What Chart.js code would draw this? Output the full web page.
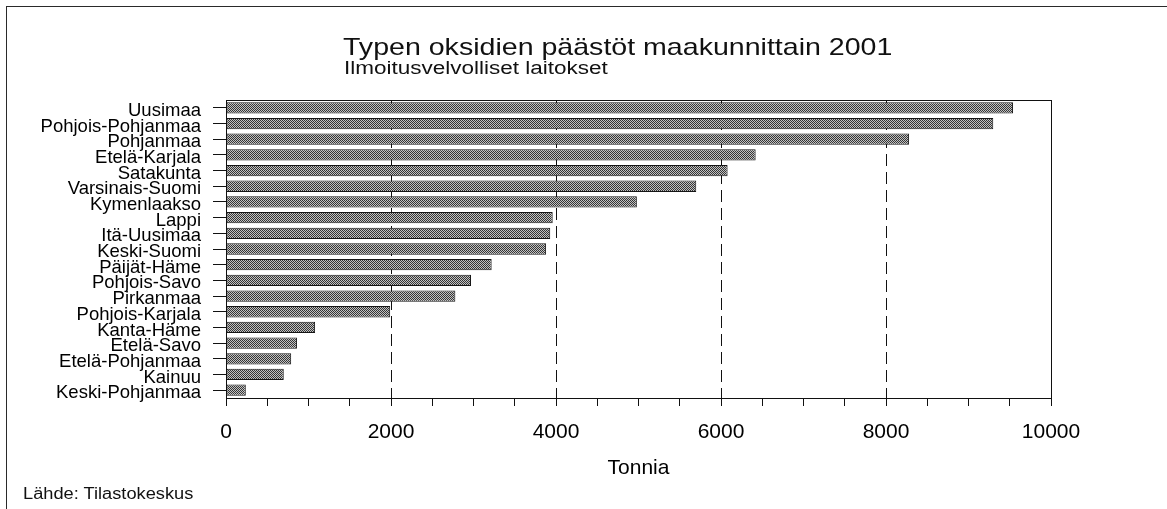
<!DOCTYPE html>
<html lang="fi">
<head>
<meta charset="utf-8">
<title>Typen oksidien päästöt maakunnittain 2001</title>
<script src="https://cdn.jsdelivr.net/npm/chart.js@4.4.1/dist/chart.umd.min.js"></script>
<style>
  html, body { margin: 0; padding: 0; background: #fff; overflow: hidden; }
  #wrap {
    position: relative; width: 1167px; height: 509px; overflow: hidden;
    font-family: "Liberation Sans", Arial, Helvetica, sans-serif; color: #111;
  }
  #frame {
    position: absolute; left: 6px; top: 6px; width: 1300px; height: 700px;
    border-left: 1px solid #2a2a2a; border-top: 1px solid #2a2a2a;
  }
  #c { position: absolute; left: 0; top: 0; }
  .txt { position: absolute; white-space: nowrap; line-height: 1; transform-origin: 0 0; }
  #title { left: 343px; top: 35px; font-size: 24px; transform: scaleX(1.19); }
  #subtitle { left: 344px; top: 59px; font-size: 18px; transform: scaleX(1.25); }
  #source { left: 23px; top: 486px; font-size: 16px; transform: scaleX(1.14); }
</style>
</head>
<body>
<div id="wrap">
  <div id="frame"></div>
  <canvas id="c" width="1167" height="509"></canvas>
  <div class="txt" id="title">Typen oksidien päästöt maakunnittain 2001</div>
  <div class="txt" id="subtitle">Ilmoitusvelvolliset laitokset</div>
  <div class="txt" id="source">Lähde: Tilastokeskus</div>
</div>
<script>
// Regions, top to bottom
const regions = [
  'Uusimaa', 'Pohjois-Pohjanmaa', 'Pohjanmaa', 'Etelä-Karjala', 'Satakunta',
  'Varsinais-Suomi', 'Kymenlaakso', 'Lappi', 'Itä-Uusimaa', 'Keski-Suomi',
  'Päijät-Häme', 'Pohjois-Savo', 'Pirkanmaa', 'Pohjois-Karjala', 'Kanta-Häme',
  'Etelä-Savo', 'Etelä-Pohjanmaa', 'Kainuu', 'Keski-Pohjanmaa'
];
// NOx emissions, tonnes
const tonnes = [
  9540, 9300, 8280, 6420, 6080,
  5700, 4980, 3960, 3930, 3880,
  3220, 2970, 2780, 1990, 1080,
  860, 790, 700, 240
];
// Value axis
const axisMin = 0;
const axisMax = 10000;
const labelStep = 2000;
const minorStep = 500;
const axisTitle = 'Tonnia';

const FONT = '"Liberation Sans", Arial, Helvetica, sans-serif';
const INK = '#111';

const canvas = document.getElementById('c');
const ctx = canvas.getContext('2d');

// fine grey dither used for the bars
function ditherPattern() {
  const p = document.createElement('canvas');
  p.width = 2; p.height = 2;
  const g = p.getContext('2d');
  g.fillStyle = '#c2c2c2';
  g.fillRect(0, 0, 2, 2);
  g.fillStyle = '#353535';
  g.fillRect(0, 0, 1, 1);
  g.fillRect(1, 1, 1, 1);
  return ctx.createPattern(p, 'repeat');
}

const isLabelled = v => v % labelStep === 0;

new Chart(ctx, {
  type: 'bar',
  data: {
    labels: regions,
    datasets: [{
      data: tonnes,
      backgroundColor: ditherPattern(),
      borderColor: '#151515',
      borderWidth: 1,
      borderSkipped: false,
      barPercentage: 0.72,
      categoryPercentage: 1.0
    }]
  },
  options: {
    indexAxis: 'y',
    responsive: false,
    animation: false,
    events: [],
    layout: { padding: { left: 26, right: 116, top: 100, bottom: 28 } },
    plugins: {
      legend: { display: false },
      tooltip: { enabled: false },
      title: { display: false }
    },
    scales: {
      x: {
        type: 'linear',
        position: 'bottom',
        min: axisMin,
        max: axisMax,
        ticks: {
          stepSize: minorStep,
          autoSkip: false,
          maxRotation: 0,
          padding: 14,
          color: '#000',
          font: { family: FONT, size: 21 },
          callback: v => (isLabelled(v) ? String(v) : '')
        },
        grid: {
          drawOnChartArea: true,
          lineWidth: 1,
          color: c => (c.tick && isLabelled(c.tick.value) && c.tick.value > axisMin && c.tick.value < axisMax)
            ? INK : 'rgba(0,0,0,0)',
          tickColor: INK,
          tickLength: 8
        },
        border: { display: true, color: INK, width: 1, dash: [12, 6] },
        title: {
          display: true,
          text: axisTitle,
          color: '#000',
          font: { family: FONT, size: 21 },
          padding: 0
        },
        afterFit: s => { s.height = 83; }
      },
      xTop: {
        type: 'linear',
        axis: 'x',
        position: 'top',
        min: axisMin,
        max: axisMax,
        ticks: { display: false },
        grid: { display: false, drawTicks: false },
        border: { display: true, color: INK, width: 1 },
        afterFit: s => { s.height = 0; }
      },
      y: {
        type: 'category',
        position: 'left',
        ticks: {
          autoSkip: false,
          padding: 12,
          labelOffset: 3,
          color: '#000',
          font: { family: FONT, size: 18.5 }
        },
        grid: {
          drawOnChartArea: false,
          offset: false,
          color: INK,
          tickLength: 13
        },
        border: { display: true, color: INK, width: 1 },
        afterFit: s => { s.width = 200; }
      },
      yRight: {
        type: 'linear',
        axis: 'y',
        position: 'right',
        min: 0,
        max: 1,
        ticks: { display: false },
        grid: { display: false, drawTicks: false },
        border: { display: true, color: INK, width: 1 },
        afterFit: s => { s.width = 0; }
      }
    }
  }
});
</script>
</body>
</html>
